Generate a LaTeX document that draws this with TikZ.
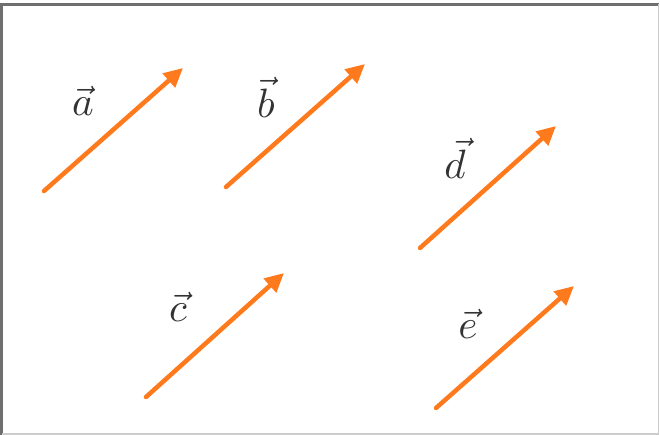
\documentclass[tikz,border=0pt]{standalone}
\usepackage{graphicx}
\usepackage{tikz}
\usetikzlibrary{arrows.meta}
\usepackage{xcolor}
\definecolor{vecorange}{HTML}{FF7A1C}
\definecolor{framegray}{HTML}{6E6E6E}
\newcommand{\veclbl}[1]{\scalebox{4.1}{$\vec{#1}$}}

\begin{document}
\begin{tikzpicture}[
  x=1pt, y=-1pt,
  vec/.style={vecorange, line width=4.5pt, line cap=round,
    -{Triangle[length=19pt, width=18pt]}},
  lbl/.style={inner sep=0pt, text=black!80}
]
  \useasboundingbox (0,0) rectangle (660,435);

  % --- Frame ---
  \draw[framegray, line width=3.5pt] (1.5,435) -- (1.5,4.5) -- (658.5,4.5);
  \draw[gray!40, line width=1.5pt] (658.5,4.5) -- (658.5,434) -- (1.5,434);

  % --- End points ---
  \coordinate (a0) at (44,191);  \coordinate (a1) at (183,68);
  \coordinate (b0) at (226,187); \coordinate (b1) at (365,64);
  \coordinate (d0) at (420,248); \coordinate (d1) at (556,126);
  \coordinate (c0) at (146,397); \coordinate (c1) at (284,273);
  \coordinate (e0) at (436,408); \coordinate (e1) at (574,286);

  % --- Vectors ---
  \draw[vec] (a0) -- (a1);
  \draw[vec] (b0) -- (b1);
  \draw[vec] (d0) -- (d1);
  \draw[vec] (c0) -- (c1);
  \draw[vec] (e0) -- (e1);

  % --- Labels ---
  \node[lbl] (la) at (83,101) {\veclbl{a}};
  \node[lbl] (lb) at (266,97) {\veclbl{b}};
  \node[lbl] (ld) at (455,158) {\veclbl{d}};
  \node[lbl] (lc) at (178,307) {\veclbl{c}};
  \node[lbl] (le) at (468,324) {\veclbl{e}};
\end{tikzpicture}
\end{document}
